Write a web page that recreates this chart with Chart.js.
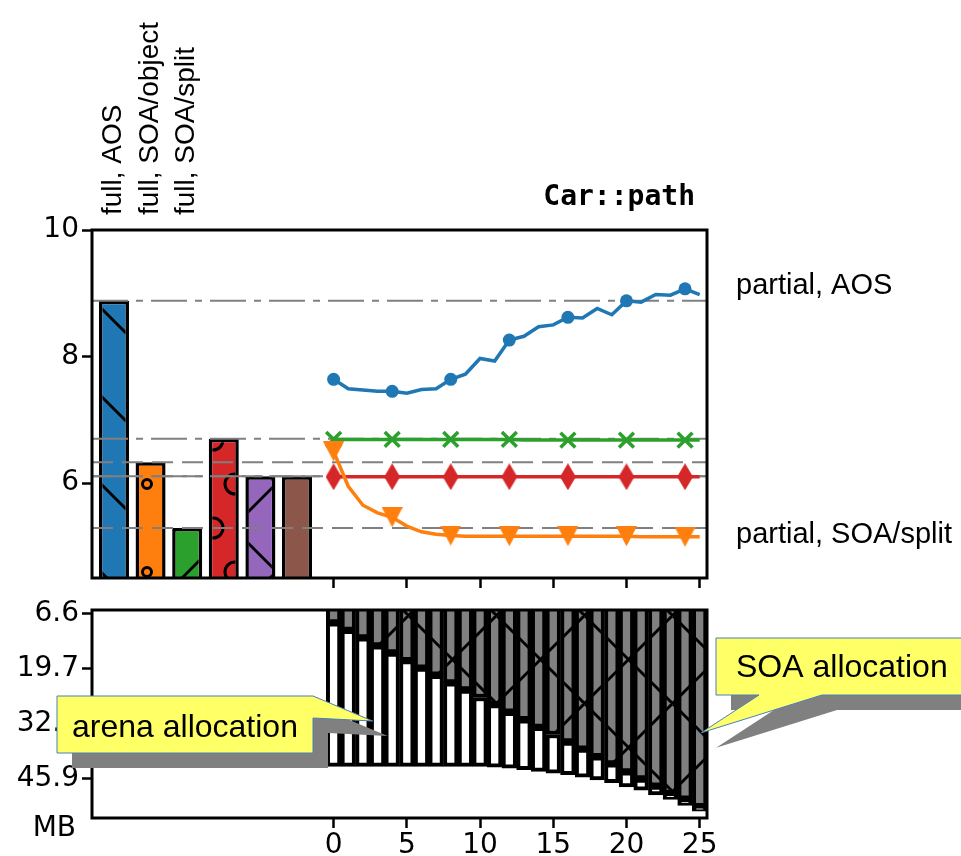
<!DOCTYPE html>
<html>
<head>
<meta charset="utf-8">
<script src="https://cdn.jsdelivr.net/npm/chart.js@4.4.1/dist/chart.umd.min.js"></script>
<style>
  html, body { margin: 0; padding: 0; background: #fff; }
  #wrap { position: relative; width: 961px; height: 856px; }
  #wrap canvas { position: absolute; left: 0; top: 0; }
</style>
</head>
<body>
<div id="wrap">
  <canvas id="top" width="961" height="856"></canvas>
  <canvas id="bottom" width="961" height="856"></canvas>
</div>
<script>
// full runs (bars on the left)
const fullPos = [-15, -12.5, -10, -7.5, -5, -2.5];
const fullVals = [8.88, 6.33, 5.29, 6.70, 6.11, 6.11];
const fullColors = ['#1f77b4', '#ff7f0e', '#2ca02c', '#d62728', '#9467bd', '#8c564b'];
const fullHatch = ['\\', 'o', '/', 'O', 'x', ''];
const fullRefStyle = ['-.', '--', '--', '-.', '-.', '--'];
const fullLabels = ['full, AOS', 'full, SOA/object', 'full, SOA/split'];

// partial runs, one value per step
const steps = [0, 1, 2, 3, 4, 5, 6, 7, 8, 9, 10, 11, 12, 13, 14, 15, 16, 17, 18, 19, 20, 21, 22, 23, 24, 25];
const partialAOS = [7.64, 7.49, 7.47, 7.45, 7.45, 7.42, 7.48, 7.49, 7.64, 7.72, 7.97, 7.93, 8.26,
                    8.32, 8.47, 8.50, 8.62, 8.61, 8.76, 8.66, 8.88, 8.86, 8.98, 8.97, 9.07, 8.98];
const partialSplit = [6.50, 5.95, 5.65, 5.53, 5.46, 5.32, 5.23, 5.19, 5.17, 5.16, 5.16, 5.16, 5.16,
                      5.16, 5.16, 5.16, 5.16, 5.16, 5.16, 5.16, 5.16, 5.15, 5.15, 5.15, 5.15, 5.15];
const partialGreen = [6.69, 6.69, 6.69, 6.69, 6.69, 6.69, 6.69, 6.69, 6.69, 6.69, 6.69, 6.69, 6.69,
                      6.68, 6.68, 6.68, 6.68, 6.68, 6.68, 6.68, 6.68, 6.68, 6.68, 6.68, 6.68, 6.68];
const partialRed = [6.10, 6.10, 6.10, 6.10, 6.10, 6.10, 6.10, 6.10, 6.10, 6.10, 6.10, 6.10, 6.10,
                    6.10, 6.10, 6.10, 6.10, 6.10, 6.10, 6.10, 6.10, 6.10, 6.10, 6.10, 6.10, 6.10];
const rightLabels = ['partial, AOS', 'partial, SOA/split'];

// memory (MB): end of SOA part and end of the whole allocation
const soaMB = [8.7, 10.5, 12.3, 14.2, 15.9, 17.7, 19.5, 21.2, 23.0, 24.7, 26.5, 28.2, 30.0,
               31.8, 33.6, 35.3, 37.1, 38.8, 40.6, 42.3, 44.2, 45.9, 47.6, 49.4, 50.7, 52.5];
const totalMB = [42.9, 42.9, 42.9, 42.9, 42.9, 42.9, 42.9, 42.9, 42.9, 42.9, 42.9, 43.1, 43.3,
                 43.7, 44.1, 44.5, 44.9, 45.5, 46.1, 46.8, 47.8, 48.6, 49.7, 50.8, 52.2, 53.6];

const topTicks = [6, 8, 10];
const stepTicks = [0, 5, 10, 15, 20, 25];
const mbTicks = [6.6, 19.7, 32.8, 45.9];

const X_MIN = -16.5, X_MAX = 25.5;
const DASHES = { '--': [21, 9], '-.': [36, 8, 7, 8] };

Chart.defaults.font.family = 'DejaVu Sans';
Chart.defaults.color = '#000';

const topCtx = document.getElementById('top').getContext('2d');
const botCtx = document.getElementById('bottom').getContext('2d');

// hatch tiles, anchored to the page so neighbouring bars line up
const TILE = 88;
function hatch(g, color, kind) {
  const c = document.createElement('canvas');
  c.width = TILE; c.height = TILE;
  const h = c.getContext('2d');
  h.fillStyle = color;
  h.fillRect(0, 0, TILE, TILE);
  h.strokeStyle = '#000';
  h.lineWidth = 3;
  if (kind === '\\' || kind === 'x') {
    for (let k = -2; k <= 2; k++) {
      h.beginPath(); h.moveTo(57 + TILE * k, 0); h.lineTo(57 + TILE * k + TILE, TILE); h.stroke();
    }
  }
  if (kind === '/' || kind === 'x') {
    for (let k = -1; k <= 3; k++) {
      h.beginPath(); h.moveTo(56 + TILE * k, 0); h.lineTo(56 + TILE * k - TILE, TILE); h.stroke();
    }
  }
  if (kind === 'o' || kind === 'O') {
    const r = kind === 'o' ? 4.5 : 10;
    for (const [cy, x0] of [[0, 37], [44, 15], [88, 37]]) {
      for (let cx = x0 - 44; cx <= TILE + 44; cx += 44) {
        h.beginPath(); h.arc(cx, cy, r, 0, Math.PI * 2); h.stroke();
      }
    }
  }
  return g.createPattern(c, 'repeat');
}

function marker(w, h, color, shape) {
  const c = document.createElement('canvas');
  c.width = w; c.height = h;
  const g = c.getContext('2d');
  g.fillStyle = color;
  g.beginPath();
  if (shape === 'v') {
    g.moveTo(0, 0); g.lineTo(w, 0); g.lineTo(w / 2, h);
  } else {
    g.moveTo(w / 2, 0); g.lineTo(w, h / 2); g.lineTo(w / 2, h); g.lineTo(0, h / 2);
  }
  g.closePath();
  g.fill();
  return c;
}
const triDown = marker(21, 20, '#ff7f0e', 'v');
const thinDiamond = marker(16, 27, '#d62728', 'd');

const every4 = r => c => (c.dataIndex % 4 === 0 ? r : 0);
const pts = vals => steps.map((x, i) => ({ x, y: vals[i] }));

function fixTicks(list) {
  return s => { s.ticks = list.map(v => ({ value: v })); };
}
const tickGrid = { display: true, drawOnChartArea: false, drawTicks: true, tickLength: 10, tickWidth: 2.5, tickColor: '#000' };

const frame = {
  id: 'frame',
  afterDatasetsDraw(chart) {
    const a = chart.chartArea, g = chart.ctx;
    g.save();
    g.strokeStyle = '#000';
    g.lineWidth = 3;
    g.strokeRect(a.left, a.top, a.right - a.left, a.bottom - a.top);
    g.restore();
  }
};

const topText = {
  id: 'topText',
  afterDraw(chart) {
    const g = chart.ctx, xs = chart.scales.x, a = chart.chartArea;
    g.save();
    g.fillStyle = '#000';
    g.font = '28px "Liberation Sans"';
    g.textAlign = 'left';
    g.textBaseline = 'alphabetic';
    fullLabels.forEach((t, i) => {
      g.save();
      g.translate(xs.getPixelForValue(fullPos[i]) + 7, a.top - 15);
      g.rotate(-Math.PI / 2);
      g.fillText(t, 0, 0);
      g.restore();
    });
    g.font = '29px "Liberation Sans"';
    g.textBaseline = 'middle';
    g.fillText(rightLabels[0], a.right + 29, 286);
    g.fillText(rightLabels[1], a.right + 29, 535);
    g.font = 'bold 28px "DejaVu Sans Mono"';
    g.textAlign = 'right';
    g.textBaseline = 'alphabetic';
    g.fillText('Car::path', a.right - 12, 205);
    g.restore();
  }
};

new Chart(topCtx, {
  type: 'bar',
  data: {
    datasets: [
      { type: 'line', data: pts(partialAOS), borderColor: '#1f77b4', borderWidth: 3.5, tension: 0,
        pointRadius: every4(6.5), pointBackgroundColor: '#1f77b4', pointBorderWidth: 0, order: 0 },
      { type: 'line', data: pts(partialSplit), borderColor: '#ff7f0e', borderWidth: 3.5, tension: 0,
        pointStyle: triDown, pointRadius: every4(9), order: 0 },
      { type: 'line', data: pts(partialGreen), borderColor: '#2ca02c', borderWidth: 3.5, tension: 0,
        pointStyle: 'crossRot', pointRadius: every4(10.5), pointBorderColor: '#2ca02c', pointBorderWidth: 3.5, order: 0 },
      { type: 'line', data: pts(partialRed), borderColor: '#d62728', borderWidth: 3.5, tension: 0,
        pointStyle: thinDiamond, pointRadius: every4(9), order: 0 },
      ...fullVals.map((v, i) => ({
        type: 'line', data: [{ x: X_MIN, y: v }, { x: X_MAX, y: v }], borderColor: '#808080',
        borderWidth: 2, borderDash: DASHES[fullRefStyle[i]], pointRadius: 0, order: 2
      })),
      { type: 'bar', data: fullPos.map((x, i) => ({ x, y: fullVals[i] })),
        backgroundColor: fullColors.map((c, i) => (fullHatch[i] ? hatch(topCtx, c, fullHatch[i]) : c)),
        borderColor: '#000', borderWidth: 3.5, borderSkipped: false,
        barPercentage: 0.82, categoryPercentage: 1, order: 3 }
    ]
  },
  options: {
    responsive: false,
    animation: false,
    devicePixelRatio: 1,
    layout: { padding: { left: 0, top: 230, right: 254, bottom: 266 } },
    plugins: { legend: { display: false }, tooltip: { enabled: false } },
    scales: {
      x: { type: 'linear', min: X_MIN, max: X_MAX, offset: false, afterBuildTicks: fixTicks(stepTicks),
           afterFit: s => { s.height = 12; }, grid: { ...tickGrid, offset: false }, border: { display: false },
           ticks: { display: false, autoSkip: false } },
      y: { min: 4.5, max: 10, afterBuildTicks: fixTicks(topTicks), afterFit: s => { s.width = 92; },
           grid: tickGrid, border: { display: false },
           ticks: { font: { size: 28 }, padding: 3, autoSkip: false } }
    }
  },
  plugins: [frame, topText]
});

function callout(g, shape, text, tx, ty) {
  const path = (dx, dy) => {
    g.beginPath();
    shape.forEach(([x, y], i) => (i ? g.lineTo(x + dx, y + dy) : g.moveTo(x + dx, y + dy)));
    g.closePath();
  };
  path(15, 15);
  g.fillStyle = '#808080';
  g.fill();
  path(0, 0);
  g.fillStyle = '#ffff66';
  g.fill();
  g.strokeStyle = '#4a7ebb';
  g.lineWidth = 1;
  g.stroke();
  g.fillStyle = '#000';
  g.font = '32px "Liberation Sans"';
  g.textAlign = 'left';
  g.textBaseline = 'alphabetic';
  g.fillText(text, tx, ty);
}

const botText = {
  id: 'botText',
  afterDraw(chart) {
    const g = chart.ctx, xs = chart.scales.x, ys = chart.scales.y;
    g.save();
    g.fillStyle = '#000';
    g.font = '28px "DejaVu Sans"';
    g.textAlign = 'right';
    g.textBaseline = 'middle';
    g.fillText('MB', 76, 829);
    const t1 = [xs.getPixelForValue(2.67), ys.getPixelForValue(32.1)];
    callout(g, [[57, 696], [313, 696], t1, [313, 718], [313, 753], [57, 753]], 'arena allocation', 72, 737);
    const t2 = [xs.getPixelForValue(25.1), ys.getPixelForValue(34.9)];
    callout(g, [[716, 638], [985, 638], [985, 695], [822, 695], t2, [759, 695], [716, 695]], 'SOA allocation', 736, 677);
    g.restore();
  }
};

new Chart(botCtx, {
  type: 'bar',
  data: {
    datasets: [
      { data: pts(soaMB), backgroundColor: hatch(botCtx, '#808080', 'x'), borderColor: '#000',
        borderWidth: 4, borderSkipped: false, grouped: false, barPercentage: 1, categoryPercentage: 1 },
      { data: steps.map((x, i) => ({ x, y: [soaMB[i], totalMB[i]] })), backgroundColor: '#fff', borderColor: '#000',
        borderWidth: 4, borderSkipped: false, grouped: false, barPercentage: 1, categoryPercentage: 1 }
    ]
  },
  options: {
    responsive: false,
    animation: false,
    devicePixelRatio: 1,
    layout: { padding: { left: 0, top: 610, right: 254, bottom: 0 } },
    plugins: { legend: { display: false }, tooltip: { enabled: false } },
    scales: {
      x: { type: 'linear', min: X_MIN, max: X_MAX, offset: false, afterBuildTicks: fixTicks(stepTicks),
           afterFit: s => { s.height = 38; }, grid: { ...tickGrid, offset: false }, border: { display: false },
           ticks: { font: { size: 28 }, padding: 1, autoSkip: false, maxRotation: 0 } },
      y: { reverse: true, min: 5.65, max: 55.2, afterBuildTicks: fixTicks(mbTicks), afterFit: s => { s.width = 92; },
           grid: tickGrid, border: { display: false },
           ticks: { font: { size: 28 }, padding: 3, autoSkip: false, callback: v => v.toFixed(1) } }
    }
  },
  plugins: [frame, botText]
});
</script>
</body>
</html>
